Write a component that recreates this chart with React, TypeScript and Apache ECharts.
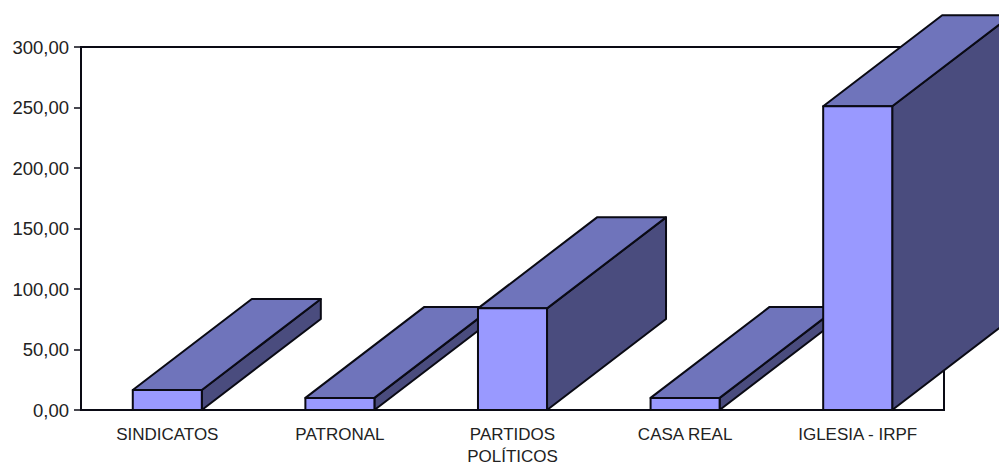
import React, { useEffect, useRef } from "react";
import * as echarts from "echarts";

const categories = ["SINDICATOS", "PATRONAL", "PARTIDOS\nPOLÍTICOS", "CASA REAL", "IGLESIA - IRPF"];
const values = [16.5, 10, 84, 10, 251];

const DEPTH_X = 119;
const DEPTH_Y = 91;
const FRONT = "#9999ff";
const TOP = "#6f74bb";
const SIDE = "#4a4c7e";
const EDGE = "#0a0a14";

function renderBar(_params: any, api: any) {
  const [cx, yTop] = api.coord([api.value(0), api.value(1)]);
  const [, yBase] = api.coord([api.value(0), 0]);
  const w = api.size([1, 0])[0] * 0.4;
  const l = cx - w / 2;
  const r = cx + w / 2;
  const style = (fill: string) => ({ fill, stroke: EDGE, lineWidth: 2, lineJoin: "round" });
  return {
    type: "group",
    children: [
      {
        type: "polygon",
        shape: { points: [[r, yTop], [r + DEPTH_X, yTop - DEPTH_Y], [r + DEPTH_X, yBase - DEPTH_Y], [r, yBase]] },
        style: style(SIDE),
      },
      {
        type: "polygon",
        shape: { points: [[l, yTop], [l + DEPTH_X, yTop - DEPTH_Y], [r + DEPTH_X, yTop - DEPTH_Y], [r, yTop]] },
        style: style(TOP),
      },
      {
        type: "rect",
        shape: { x: l, y: yTop, width: w, height: yBase - yTop },
        style: style(FRONT),
      },
    ],
  };
}

export default function App() {
  const ref = useRef<HTMLDivElement>(null);
  useEffect(() => {
    document.body.style.margin = "0";
    const chart = echarts.init(ref.current!, null, { renderer: "svg" });
    chart.setOption({
      animation: false,
      backgroundColor: "#ffffff",
      grid: {
        left: 81,
        right: 55,
        top: 47,
        bottom: 56,
        outerBoundsMode: "none",
        show: true,
        borderColor: EDGE,
        borderWidth: 2,
        backgroundColor: "transparent",
      },
      xAxis: {
        type: "category",
        data: categories,
        axisLine: { show: true, lineStyle: { color: EDGE, width: 2 } },
        axisTick: { show: false },
        axisLabel: {
          color: "#222222",
          fontFamily: "Liberation Sans",
          fontSize: 17,
          margin: 13,
          lineHeight: 22,
          interval: 0,
        },
        splitLine: { show: false },
      },
      yAxis: {
        type: "value",
        min: 0,
        max: 300,
        interval: 50,
        axisLine: { show: true, lineStyle: { color: EDGE, width: 2 } },
        axisTick: { show: true, length: 7, lineStyle: { color: EDGE, width: 1.5 } },
        axisLabel: {
          color: "#222222",
          fontFamily: "Liberation Sans",
          fontSize: 18.5,
          margin: 12,
          formatter: (v: number) => v.toFixed(2).replace(".", ","),
        },
        splitLine: { show: false },
      },
      series: [
        {
          type: "custom",
          clip: false,
          renderItem: renderBar,
          encode: { x: 0, y: 1 },
          data: values.map((v, i) => [i, v]),
        },
      ],
    });
    return () => chart.dispose();
  }, []);
  return <div ref={ref} style={{ width: 999, height: 466 }} />;
}
